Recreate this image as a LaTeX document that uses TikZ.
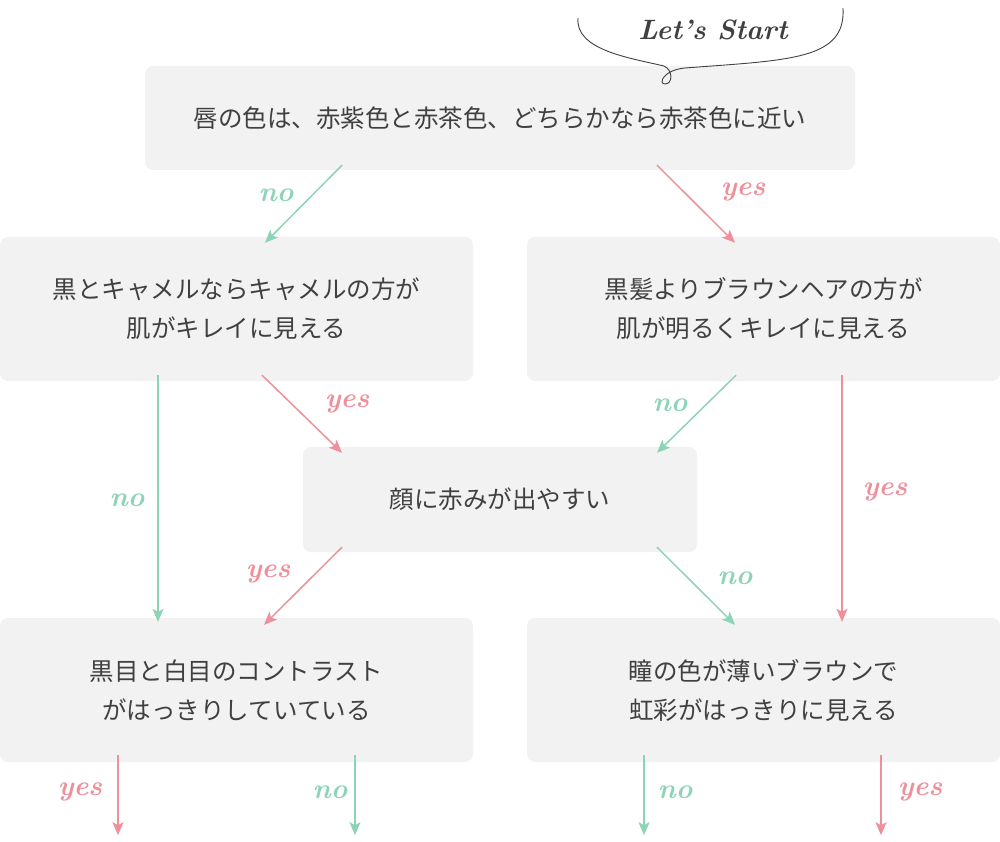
\documentclass[tikz,border=0pt]{standalone}
\usepackage{fontspec}
\newfontfamily\jpfont{Noto Sans CJK JP}
\usepackage{tikz}
\usetikzlibrary{calc}
\usetikzlibrary{arrows.meta}
\definecolor{boxgray}{HTML}{F2F2F2}
\definecolor{txtgray}{HTML}{404040}
\definecolor{nogreen}{HTML}{8DD3B5}
\definecolor{yespink}{HTML}{EE8F9A}
\tikzset{
  qbox/.style={rectangle, rounded corners=8pt, fill=boxgray, text=txtgray, align=center,
    font=\jpfont\fontsize{24.5}{39}\selectfont, inner sep=0pt},
  noline/.style={draw=nogreen, line width=1.5pt, -{Stealth[length=13pt,width=11pt,inset=3pt]}},
  yesline/.style={draw=yespink, line width=1.5pt, -{Stealth[length=13pt,width=11pt,inset=3pt]}},
  nolab/.style={text=nogreen, font=\fontsize{28}{28}\selectfont\bfseries\itshape},
  yeslab/.style={text=yespink, font=\fontsize{28}{28}\selectfont\bfseries\itshape}
}
\newcommand{\nolabel}[3]{\node[nolab] (#1) at (#2,#3) {no};}
\newcommand{\yeslabel}[3]{\node[yeslab] (#1) at (#2,#3) {yes};}

\begin{document}
\begin{tikzpicture}[x=1pt,y=-1pt]
        \useasboundingbox (0,0) rectangle (1000,842);
        %boxes
        \node[qbox, minimum width=710pt, minimum height=104pt] (lip) at (500,118) {唇の色は、赤紫色と赤茶色、どちらかなら赤茶色に近い};
        \node[qbox, minimum width=473pt, minimum height=144pt] (camel) at (236.5,309) {黒とキャメルならキャメルの方が\\肌がキレイに見える};
        \node[qbox, minimum width=473pt, minimum height=144pt] (brown) at (763.5,309) {黒髪よりブラウンヘアの方が\\肌が明るくキレイに見える};
        \node[qbox, minimum width=394pt, minimum height=105pt] (red) at (500,499.5) {顔に赤みが出やすい};
        \node[qbox, minimum width=473pt, minimum height=144pt] (contrast) at (236.5,690) {黒目と白目のコントラスト\\がはっきりしていている};
        \node[qbox, minimum width=473pt, minimum height=144pt] (iris) at (763.5,690) {瞳の色が薄いブラウンで\\虹彩がはっきりに見える};
        %start
        \draw[txtgray, line width=0.9pt] (578,18) .. controls (575,50) and (630,58) .. (664,66)
          .. controls (673,70) and (673,84) .. (665,84) .. controls (658,84) and (663,70) .. (685,68)
          .. controls (790,60) and (846,60) .. (843,8);
        \node[text=txtgray, font=\fontsize{28}{28}\selectfont\bfseries\itshape] (start) at (713,30) {Let's Start};
        %arrows
        \draw[noline] ([xshift=-158pt,yshift=5pt]lip.south) -- ([xshift=28.5pt,yshift=-6pt]camel.north);
        \draw[yesline] ([xshift=157pt,yshift=5pt]lip.south) -- ([xshift=-28.5pt,yshift=-6pt]brown.north);
        \draw[noline] ([xshift=-78.5pt,yshift=6pt]camel.south) -- ([xshift=-78.5pt,yshift=-4pt]contrast.north);
        \draw[yesline] ([xshift=25.5pt,yshift=6pt]camel.south) -- ([xshift=-158pt,yshift=-6pt]red.north);
        \draw[noline] ([xshift=-27.5pt,yshift=6pt]brown.south) -- ([xshift=157pt,yshift=-6pt]red.north);
        \draw[yesline] ([xshift=78.5pt,yshift=6pt]brown.south) -- ([xshift=78.5pt,yshift=-4pt]iris.north);
        \draw[yesline] ([xshift=-158pt,yshift=5pt]red.south) -- ([xshift=27.5pt,yshift=-7pt]contrast.north);
        \draw[noline] ([xshift=157pt,yshift=5pt]red.south) -- ([xshift=-28.5pt,yshift=-7pt]iris.north);
        \draw[yesline] ([xshift=-118.5pt,yshift=7pt]contrast.south) -- ++(0,80);
        \draw[noline] ([xshift=118.5pt,yshift=7pt]contrast.south) -- ++(0,80);
        \draw[noline] ([xshift=-119.5pt,yshift=7pt]iris.south) -- ++(0,80);
        \draw[yesline] ([xshift=117.5pt,yshift=7pt]iris.south) -- ++(0,80);
        %labels
        \nolabel{n1}{276}{195}
        \yeslabel{y1}{743}{192}
        \yeslabel{y2}{347}{404}
        \nolabel{n2}{670}{405}
        \nolabel{n3}{127}{500}
        \yeslabel{y3}{885}{492}
        \yeslabel{y4}{268}{574}
        \nolabel{n4}{735}{578}
        \yeslabel{y5}{80}{792}
        \nolabel{n5}{330}{792}
        \nolabel{n6}{675}{792}
        \yeslabel{y6}{920}{792}
\end{tikzpicture}
\end{document}
